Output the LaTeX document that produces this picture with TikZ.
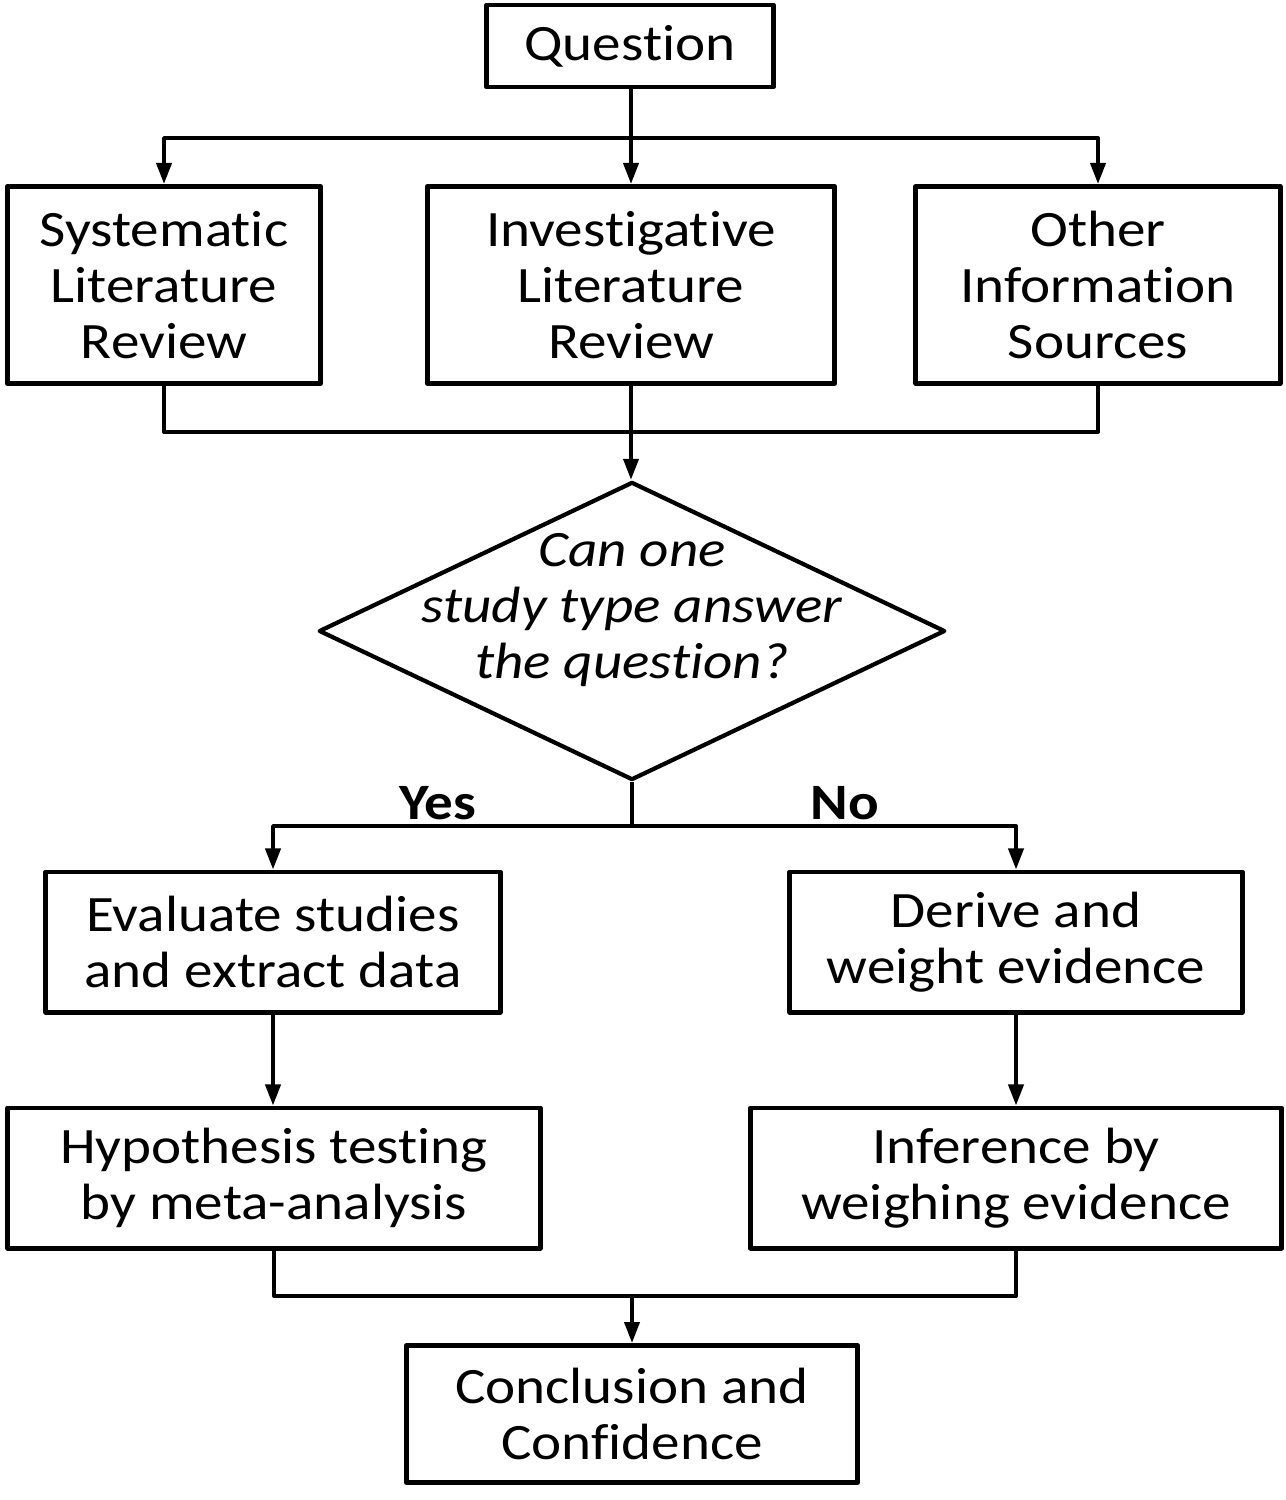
\documentclass[tikz,border=0pt]{standalone}
\usepackage{fontspec}
\setmainfont{Carlito}[FakeStretch=1.12, RawFeature={-liga;-clig;-dlig;-calt}]
\usepackage{tikz}
\usetikzlibrary{arrows.meta}
\usetikzlibrary{shapes.geometric}
\tikzset{box/.style={draw, line width=1.4pt, align=center, inner sep=0pt, font=\fontsize{14.5}{16}\selectfont}}
\tikzset{decision/.style={draw, diamond, line width=1.2pt, inner sep=0pt, minimum width=6.26cm, minimum height=2.98cm}}
\tikzset{qtext/.style={align=center, font=\fontsize{14.5}{16}\selectfont\itshape}}
\tikzset{yn/.style={font=\fontsize{14.5}{16}\selectfont\bfseries}}
\tikzset{arr/.style={line width=1.1pt, -{Triangle[length=0.21cm,width=0.15cm]}}}
\tikzset{ln/.style={line width=1.1pt}}

\begin{document}
\begin{tikzpicture}[line join=round, x=0.01cm, y=-0.01cm]
            \useasboundingbox (0,0) rectangle (1286,1500);
            \node[box, minimum width=2.86cm, minimum height=0.82cm] (quest) at (630,46) {Question};
            \node[box, minimum width=3.13cm, minimum height=1.97cm] (sysrev) at (164,285) {Systematic\\Literature\\Review};
            \node[box, minimum width=4.07cm, minimum height=1.97cm] (invrev) at (631,285) {Investigative\\Literature\\Review};
            \node[box, minimum width=3.64cm, minimum height=1.97cm] (othsrc) at (1098,285) {Other\\Information\\Sources};
            \node[decision] (onetype) at (632,631) {};
            \node[qtext] (onetxt) at (632,610) {Can one\\study type answer\\the question?};
            \node[box, minimum width=4.54cm, minimum height=1.40cm] (evalst) at (273,942) {Evaluate studies\\and extract data};
            \node[box, minimum width=4.52cm, minimum height=1.40cm] (derive) at (1016,942) {Derive and\\weight evidence};
            \node[box, minimum width=5.32cm, minimum height=1.40cm] (hypmeta) at (274,1178) {Hypothesis testing\\by meta-analysis};
            \node[box, minimum width=5.31cm, minimum height=1.40cm] (infer) at (1016,1178) {Inference by\\weighing evidence};
            \node[box, minimum width=4.51cm, minimum height=1.37cm] (concl) at (632,1414) {Conclusion and\\Confidence};
            \node[yn] (yes) at (438,803) {Yes};
            \node[yn] (no) at (845,803) {No};
            \coordinate (split) at (631,138);
            \coordinate (join) at (631,432);
            \coordinate (fork) at (632,826);
            \coordinate (merge) at (632,1296);
            % top branches
            \draw[arr] (quest.south -| invrev.north) -- (invrev.north);
            \draw[arr] (split) -| (sysrev.north);
            \draw[arr] (split) -| (othsrc.north);
            \draw[ln] (sysrev.south) |- (join) -| (othsrc.south);
            \draw[arr] (invrev.south) -- (invrev.south |- onetype.north);
            % yes / no
            \draw[ln] (onetype.south) -- (fork);
            \draw[arr] (fork) -| (evalst.north);
            \draw[arr] (fork) -| (derive.north);
            \draw[arr] (evalst.south) -- (evalst.south |- hypmeta.north);
            \draw[arr] (derive.south) -- (derive.south |- infer.north);
            \draw[ln] (hypmeta.south) |- (merge) -| (infer.south);
            \draw[arr] (merge) -- (merge |- concl.north);
          \end{tikzpicture}
\end{document}
